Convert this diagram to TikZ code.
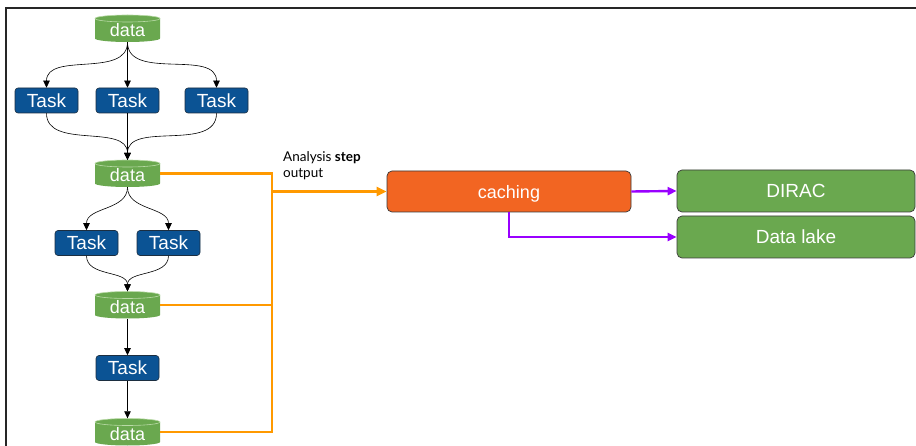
\documentclass[tikz,border=0pt]{standalone}
\usepackage{fontspec}
\setmainfont{Liberation Sans}
\newfontfamily\notefont{Lato}
\usetikzlibrary{arrows.meta}
\definecolor{taskblue}{HTML}{0B5394}
\definecolor{taskedge}{HTML}{1C2E40}
\definecolor{datagreen}{HTML}{6AA84F}
\definecolor{dataline}{HTML}{B9DAA6}
\definecolor{cacheorange}{HTML}{F26522}
\definecolor{busorange}{HTML}{FF9900}
\definecolor{linkpurple}{HTML}{9900FF}
\definecolor{boxedge}{HTML}{3A3A3A}
\tikzset{
  datanode/.style={rectangle, minimum width=65pt, minimum height=27pt,
    inner sep=0pt, text height=16.4pt, text depth=0pt,
    text=white, font=\fontsize{18}{18}\selectfont},
  taskbox/.style={rectangle, rounded corners=3pt, minimum width=63pt,
    minimum height=25pt, inner sep=0pt, fill=taskblue, draw=taskedge,
    line width=0.6pt, text=white, font=\fontsize{19}{19}\selectfont},
  flow/.style={draw=black, line width=0.6pt,
    -{Triangle[length=7pt,width=6.5pt]}},
  bigbox/.style={rectangle, rounded corners=5pt, inner sep=0pt,
    text depth=0pt, draw=boxedge, line width=0.7pt, text=white},
  busline/.style={draw=busorange, line width=2.4pt},
  linkline/.style={draw=linkpurple, line width=2.4pt,
    -{Triangle[length=9pt,width=8pt]}},
}
% a green storage cylinder with its label node: name, x, y
\newcommand\datastore[3]{%
  \fill[datagreen] (#2-32.5,#3-10) -- (#2-32.5,#3+10)
    arc[start angle=180, end angle=360, x radius=32.5pt, y radius=3.5pt]
    -- (#2+32.5,#3-10)
    arc[start angle=0, end angle=180, x radius=32.5pt, y radius=3.5pt] -- cycle;
  \draw[dataline, line width=0.6pt] (#2,#3-10)
    ellipse[x radius=32.5pt, y radius=3.5pt];
  \node[datanode] (#1) at (#2,#3) {data};%
}
\begin{document}
\begin{tikzpicture}[x=1pt,y=-1pt]
\useasboundingbox (0,0) rectangle (916,446);
% outer frame (left and top edges)
\draw[line width=1.6pt, black!85] (6,446) -- (6,8) -- (916,8);

% workflow column
\datastore{d1}{127.5}{28.5}
\node[taskbox] (t1) at (46.5,100.5) {Task};
\node[taskbox] (t2) at (127.5,100.5) {Task};
\node[taskbox] (t3) at (216.5,100.5) {Task};
\datastore{d2}{127.5}{173.5}
\node[taskbox] (t4) at (86.5,243) {Task};
\node[taskbox] (t5) at (168.5,243) {Task};
\datastore{d3}{127.5}{305}
\node[taskbox] (t6) at (127.5,368) {Task};
\datastore{d4}{127.5}{432}

\draw[flow] (d1.south) to[out=-90,in=90] (t1.north);
\draw[flow] (d1.south) -- (t2.north);
\draw[flow] (d1.south) to[out=-90,in=90] (t3.north);
\draw[flow] (t1.south) to[out=-90,in=90] (d2.north);
\draw[flow] (t2.south) -- (d2.north);
\draw[flow] (t3.south) to[out=-90,in=90] (d2.north);
\draw[flow] (d2.south) to[out=-90,in=90] (t4.north);
\draw[flow] (d2.south) to[out=-90,in=90] (t5.north);
\draw[flow] (t4.south) to[out=-90,in=90] (d3.north);
\draw[flow] (t5.south) to[out=-90,in=90] (d3.north);
\draw[flow] (d3.south) -- (t6.north);
\draw[flow] (t6.south) -- (d4.north);

% storage side
\node[bigbox, fill=cacheorange, minimum width=244pt, minimum height=41pt,
  font=\fontsize{18}{18}\selectfont] (cache) at (509,191.5) {caching};
\node[bigbox, fill=datagreen, minimum width=238pt, minimum height=42pt,
  font=\fontsize{19}{19}\selectfont] (dirac) at (796,191) {DIRAC};
\node[bigbox, fill=datagreen, minimum width=238pt, minimum height=42pt,
  font=\fontsize{19}{19}\selectfont] (lake) at (796,237) {Data lake};

% collecting bus from the data outputs
\coordinate (bus) at (272,0);
\draw[busline, line join=miter] (d2.east) -- (d2.east -| bus) -- (d4.east -| bus) -- (d4.east);
\draw[busline] (d3.east) -- (d3.east -| bus);
\draw[busline, -{Triangle[length=10pt,width=9pt]}] (bus |- cache.west) -- (cache.west);
\node[anchor=north west, align=left, inner sep=0pt,
  font=\notefont\fontsize{13.5}{16}\selectfont] (note) at (283,151)
  {Analysis \textbf{step}\\output};

\draw[linkline] (cache.east) -- (dirac.west);
\draw[linkline] (cache.south) |- (lake.west);
\end{tikzpicture}
\end{document}
